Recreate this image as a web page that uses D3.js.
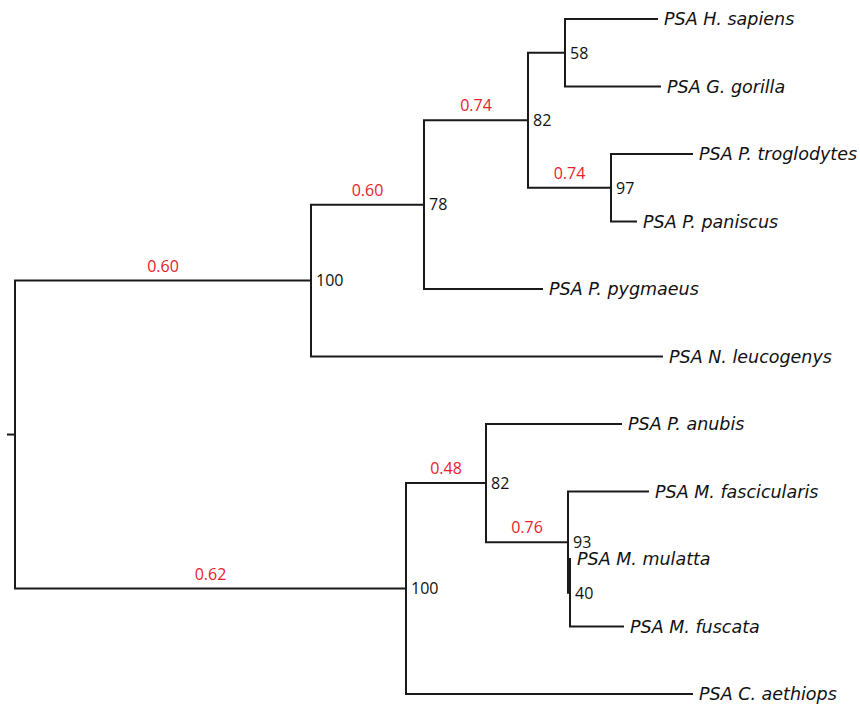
<!DOCTYPE html>
<html>
<head>
<meta charset="utf-8">
<script src="https://cdn.jsdelivr.net/npm/d3@7"></script>
<style>
  body { margin: 0; background: #fff; }
  .branch { fill: none; stroke: #1a1a1a; stroke-width: 2; stroke-linecap: square; }
  .leaf-label { font-family: "DejaVu Sans", sans-serif; font-style: italic; font-size: 17.5px; fill: #111; }
  .support { font-family: "Open Sans", sans-serif; font-size: 16px; fill: #111; }
  .posterior { font-family: "Open Sans", sans-serif; font-size: 16px; fill: #e8202a; }
</style>
</head>
<body>
<svg id="tree" width="860" height="705"></svg>
<script>
// Tree as flat lists: node id, parent id, branch length, bootstrap support, posterior
const nodeIds = ["root", "n100a", "n78", "n82a", "n58", "PSA H. sapiens", "PSA G. gorilla",
  "n97", "PSA P. troglodytes", "PSA P. paniscus", "PSA P. pygmaeus", "PSA N. leucogenys",
  "n100b", "n82b", "PSA P. anubis", "n93", "PSA M. fascicularis", "n40", "PSA M. mulatta",
  "PSA M. fuscata", "PSA C. aethiops"];
const parentIds = ["", "root", "n100a", "n78", "n82a", "n58", "n58",
  "n82a", "n97", "n97", "n78", "n100a",
  "root", "n100b", "n82b", "n82b", "n93", "n93", "n40",
  "n40", "n100b"];
const branchLengths = [0.007, 0.296, 0.113, 0.104, 0.037, 0.092, 0.095,
  0.083, 0.081, 0.025, 0.118, 0.351,
  0.391, 0.080, 0.135, 0.082, 0.080, 0.002, 0.000,
  0.053, 0.286];
const bootstrap = [null, 100, 78, 82, 58, null, null,
  97, null, null, null, null,
  100, 82, null, 93, null, 40, null,
  null, null];
const posterior = [null, 0.60, 0.60, 0.74, null, null, null,
  0.74, null, null, null, null,
  0.62, 0.48, null, 0.76, null, null, null,
  null, null];

const rows = nodeIds.map((id, i) => ({
  id: id,
  parent: parentIds[i],
  length: branchLengths[i],
  support: bootstrap[i],
  post: posterior[i]
}));

const root = d3.stratify()
  .id(d => d.id)
  .parentId(d => d.parent || null)(rows);

// evenly spaced tips, internal nodes at the middle of their children
d3.cluster().size([1, 1]).separation(() => 1)(root);

// cumulative branch length from the root
root.eachBefore(node => {
  node.dist = (node.parent ? node.parent.dist : 0) + node.data.length;
});

const maxDist = d3.max(root.leaves(), d => d.dist);

const x = d3.scaleLinear().domain([0, maxDist]).range([8, 692]);
const y = d3.scaleLinear().domain(d3.extent(root.leaves(), d => d.x)).range([19, 694]);

const svg = d3.select("#tree");

// root stub
svg.append("path")
  .attr("class", "branch")
  .attr("d", `M${x(0)},${y(root.x)}H${x(root.dist)}`);

// elbow branches
svg.selectAll("path.edge")
  .data(root.links())
  .enter()
  .append("path")
  .attr("class", "branch edge")
  .attr("d", l => `M${x(l.source.dist)},${y(l.source.x)}V${y(l.target.x)}H${x(l.target.dist)}`);

// tip names
svg.selectAll("text.leaf-label")
  .data(root.leaves())
  .enter()
  .append("text")
  .attr("class", "leaf-label")
  .attr("x", d => x(d.dist) + 7)
  .attr("y", d => y(d.x))
  .attr("dy", "0.35em")
  .text(d => d.id);

// bootstrap values next to the nodes
svg.selectAll("text.support")
  .data(root.descendants().filter(d => d.data.support != null))
  .enter()
  .append("text")
  .attr("class", "support")
  .attr("x", d => x(d.dist) + 5)
  .attr("y", d => y(d.x))
  .attr("dy", "0.36em")
  .text(d => d.data.support);

// posterior probabilities above the branches
svg.selectAll("text.posterior")
  .data(root.descendants().filter(d => d.data.post != null))
  .enter()
  .append("text")
  .attr("class", "posterior")
  .attr("text-anchor", "middle")
  .attr("x", d => (x(d.parent.dist) + x(d.dist)) / 2)
  .attr("y", d => y(d.x) - 9)
  .text(d => d.data.post.toFixed(2));
</script>
</body>
</html>
